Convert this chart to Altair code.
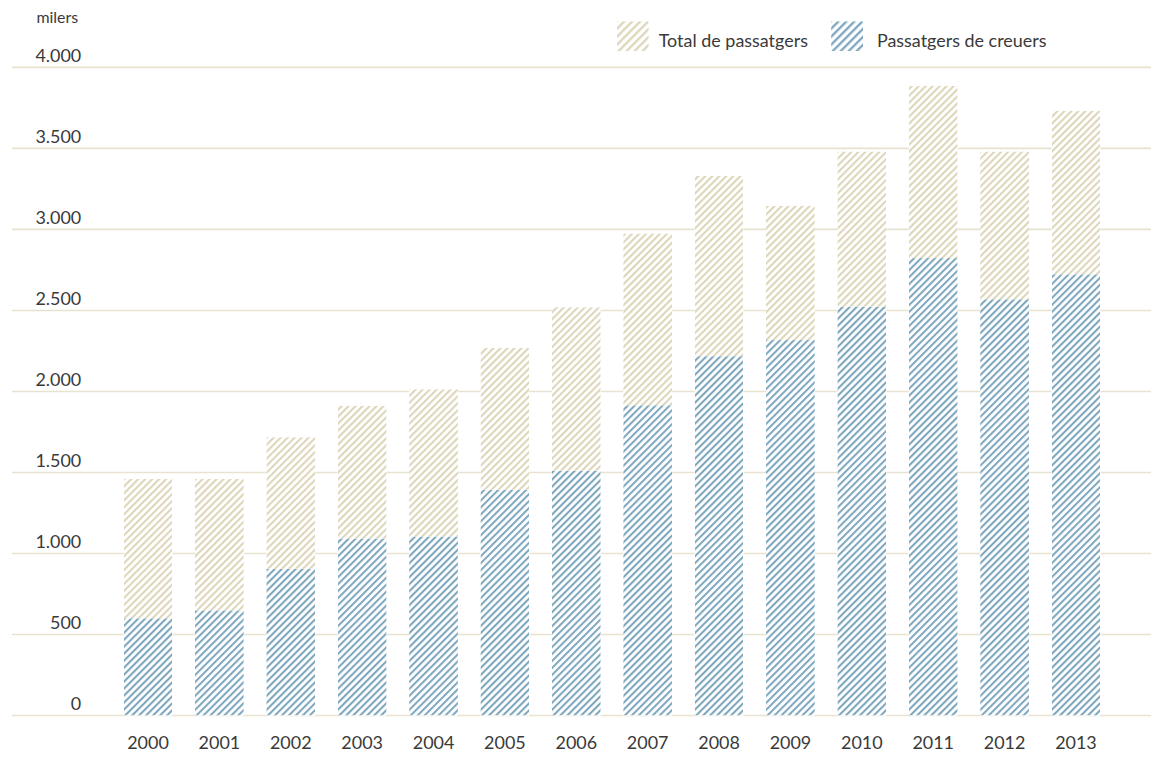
import base64
import altair as alt
import pandas as pd

# ---------------- data ----------------
years = [str(y) for y in range(2000, 2014)]
total = [1460, 1460, 1718, 1913, 2014, 2268, 2520, 2975, 3330, 3147, 3481, 3885, 3481, 3731]
cruise = [600, 649, 906, 1093, 1105, 1394, 1511, 1915, 2218, 2317, 2522, 2823, 2569, 2723]
series_names = ["Total de passatgers", "Passatgers de creuers"]
y_ticks = [0, 500, 1000, 1500, 2000, 2500, 3000, 3500, 4000]
unit_label = "milers"

# ---------------- style / layout ----------------
FONT = "Lato"
TEXT = "#3a3a3a"
BEIGE = "#ddd6ba"
BLUE = "#7fa8bf"
GRID = "#e8e3d0"
PLOT_W = 1143
PLOT_H = 650.4
Y_MAX = 4000
P_IN = 0.316
X_START = 112.0
STEP = 71.63
X_END = X_START + STEP * (len(years) - P_IN)
BW = STEP * (1 - P_IN)


def hatch_url(w, h, color, period=4.95, stripe=2.1):
    """SVG image (as data URL) filled with 45-degree stripes, anchored at bottom-left."""
    svg = (
        f'<svg xmlns="http://www.w3.org/2000/svg" width="{w:.3f}" height="{h:.3f}">'
        f'<defs><pattern id="p" width="{period}" height="{period}" patternUnits="userSpaceOnUse" '
        f'patternTransform="translate(0,{h:.3f}) rotate(45)">'
        f'<rect x="0" y="0" width="{stripe}" height="{period}" fill="{color}"/></pattern></defs>'
        f'<rect width="100%" height="100%" fill="#ffffff"/>'
        f'<rect width="100%" height="100%" fill="url(#p)"/></svg>'
    )
    return "data:image/svg+xml;base64," + base64.b64encode(svg.encode()).decode()


rows = []
for i, y in enumerate(years):
    for sname, vals, col in [(series_names[0], total, BEIGE), (series_names[1], cruise, BLUE)]:
        h = vals[i] * PLOT_H / Y_MAX
        rows.append({"year": y, "series": sname, "value": vals[i], "hatch": hatch_url(BW, h, col)})
df = pd.DataFrame(rows)
grid_df = pd.DataFrame({"value": y_ticks})

X = alt.X(
    "year:N",
    scale=alt.Scale(domain=years, paddingInner=P_IN, paddingOuter=0, range=[X_START, X_END]),
    axis=alt.Axis(
        domain=False, ticks=False, tickSize=0, grid=False,
        labelFont=FONT, labelFontSize=18, labelColor=TEXT,
        labelBaseline="alphabetic", labelPadding=33.3, labelAngle=0,
    ),
    title=None,
)
YSCALE = alt.Scale(domain=[0, Y_MAX], nice=False, zero=True)
Y_AXIS = alt.Axis(
    values=y_ticks, grid=False,
    domain=False, ticks=False, tickSize=0,
    labelPadding=-69, labelAlign="right", labelBaseline="alphabetic",
    labelOffset=-6, labelFont=FONT, labelFontSize=18, labelColor=TEXT,
    labelExpr="datum.value == 0 ? '0\u00a0\u00a0\u00a0' : replace(format(datum.value, ','), ',', '.')",
    title=unit_label, titleAngle=0, titleX=24, titleY=-45.3, titleAlign="left",
    titleBaseline="alphabetic", titleFont=FONT, titleFontSize=16, titleFontWeight="normal",
    titleColor=TEXT,
)
Y = alt.Y("value:Q", scale=YSCALE, axis=Y_AXIS)

layers = []
# gridlines across the whole plot width
layers.append(
    alt.Chart(grid_df).mark_rule(color=GRID, strokeWidth=1.6)
    .encode(y=Y, x=alt.value(0), x2=alt.value(PLOT_W))
)
# bars (white base hides the gridlines), hatch images on top
for sname in series_names:
    base = alt.Chart(df).transform_filter(alt.datum.series == sname)
    layers.append(base.mark_bar(color="#ffffff", strokeWidth=0).encode(x=X, y=Y))
    layers.append(
        base.mark_image(aspect=False)
        .encode(x=X, y=Y, y2=alt.datum(0), url="hatch:N")
    )

# legend (manual, hatched swatches)
leg = [
    (series_names[0], BEIGE, 607, 649),
    (series_names[1], BLUE, 822, 868),
]
for name, col, sx, tx in leg:
    ldf = pd.DataFrame({"label": [name]})
    layers.append(
        alt.Chart(ldf).mark_image(width=32, height=30, align="left", baseline="top", aspect=False)
        .encode(x=alt.value(sx), y=alt.value(-46.3),
                url=alt.value(hatch_url(32, 30, col, period=5.66, stripe=2.3)))
    )
    layers.append(
        alt.Chart(ldf).mark_text(align="left", baseline="alphabetic", font=FONT, fontSize=18, color=TEXT)
        .encode(x=alt.value(tx), y=alt.value(-20.3), text="label:N")
    )

chart = (
    alt.layer(*layers)
    .properties(
        width=PLOT_W, height=PLOT_H,
        autosize=alt.AutoSizeParams(type="none"),
        padding={"left": 4, "top": 58.3, "right": 0, "bottom": 36},
        background="white",
    )
    .configure_view(stroke=None)
)

chart.save("out.html", embed_options={"renderer": "svg", "actions": False})
